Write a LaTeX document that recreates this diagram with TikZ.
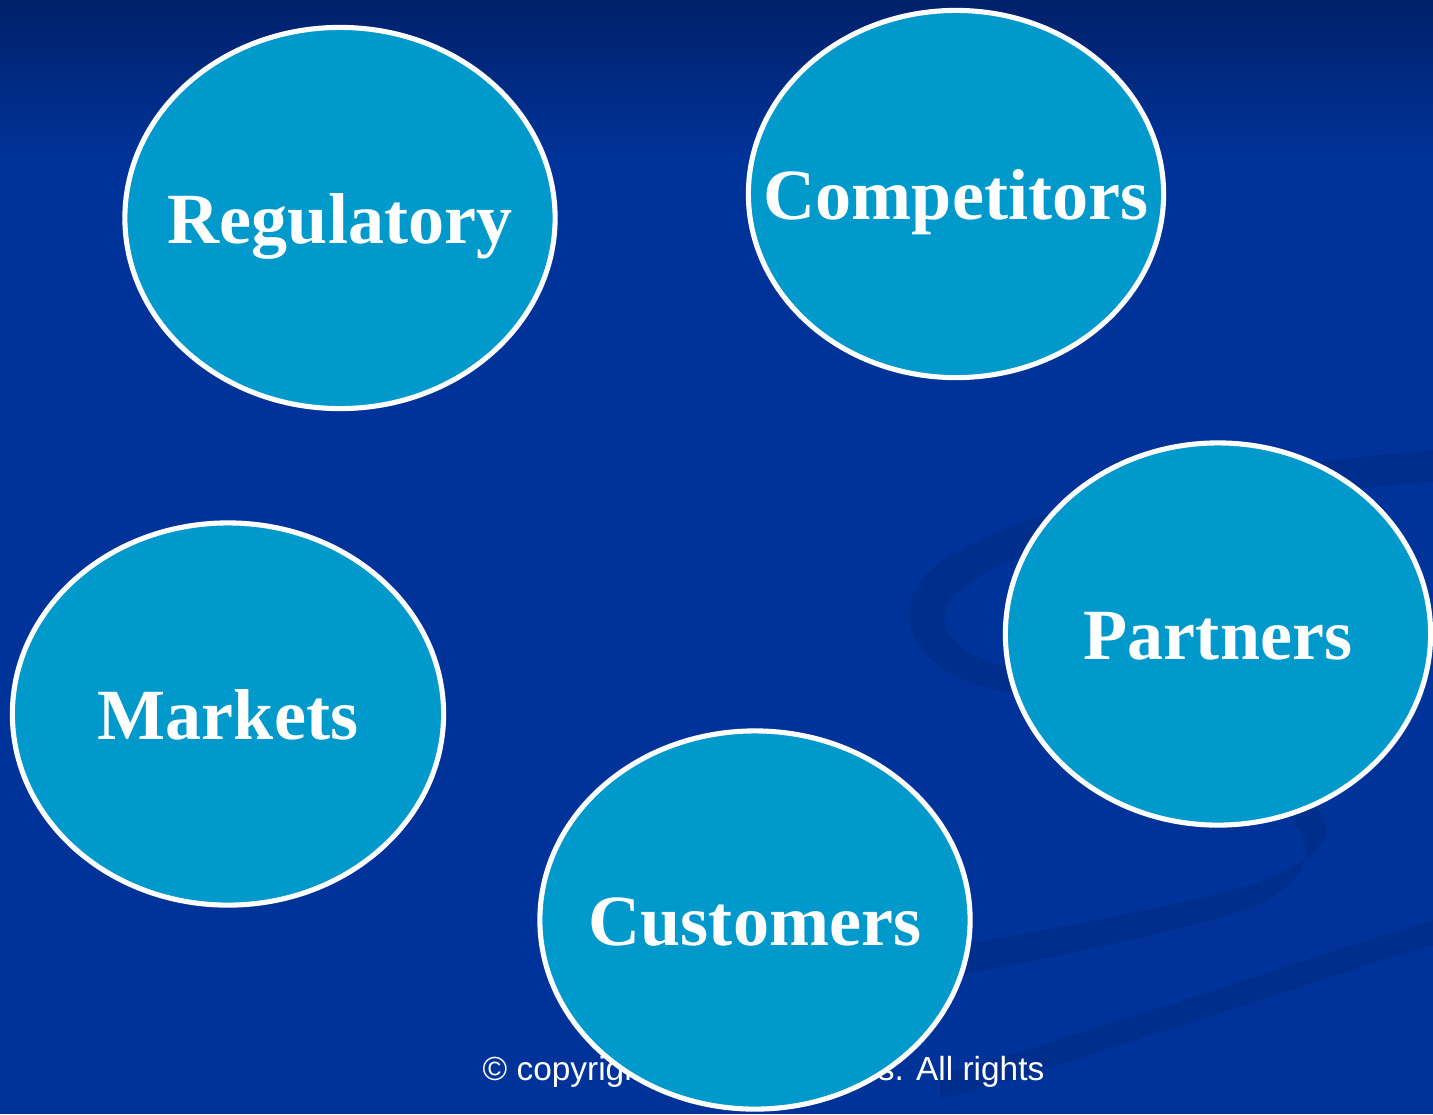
\documentclass[tikz,border=0pt]{standalone}
\usepackage{fontspec}
\setmainfont{Liberation Serif}
\newfontfamily\notefont{Liberation Sans}
\usetikzlibrary{shapes.geometric}
\definecolor{slideblue}{HTML}{003399}
\definecolor{topblue}{HTML}{00206A}
\definecolor{swirl}{HTML}{002E8C}
\definecolor{bubble}{HTML}{0099CC}

\begin{document}
\begin{tikzpicture}[x=0.01cm,y=-0.01cm]
 \tikzstyle{e} = [ellipse,draw=white,line width=1.45pt,fill=bubble,inner sep=0pt]
 \tikzstyle{t} = [text=white,inner sep=0pt,text height=0.5cm,text depth=0pt,
   font=\fontsize{20.5}{24}\selectfont\bfseries]
 \tikzstyle{n} = [text=white,inner sep=0pt,font=\notefont\fontsize{9.5}{11}\selectfont]
 \clip (0,0) rectangle (1433,1114);
 \useasboundingbox (0,0) rectangle (1433,1114);
 % background and swirls
 \fill[slideblue] (0,0) rectangle (1433,1114);
 \shade[top color=topblue,bottom color=slideblue] (0,0) rectangle (1433,160);
 \fill[swirl] (1433,450) .. controls (1200,470) and (1000,510) .. (930,570)
   .. controls (880,620) and (920,685) .. (1030,695) -- (1030,672)
   .. controls (950,660) and (925,620) .. (960,590)
   .. controls (1020,540) and (1200,500) .. (1433,482) -- cycle;
 \fill[swirl] (1290,790) .. controls (1350,820) and (1345,865) .. (1200,898)
   .. controls (1100,920) and (1000,938) .. (960,945) -- (960,975)
   .. controls (1050,958) and (1150,938) .. (1230,915)
   .. controls (1310,890) and (1325,850) .. (1280,805) -- cycle;
 \fill[swirl] (940,1075) .. controls (1100,1030) and (1300,960) .. (1433,920)
   -- (1433,945) .. controls (1300,985) and (1100,1055) .. (940,1100) -- cycle;
 % copyright line
 \node[n,anchor=base west] (noteleft) at (482,1080) {© copyright};
 \node[n,anchor=base east] (noteright) at (1045,1080) {s. All rights};
 % bubbles
 \path
 (340,218) node[e,minimum width=4.30cm,minimum height=3.81cm,label={[t]center:Regulatory}] (Regulatory) {}
 (Regulatory) ++(616,-24) node[e,minimum width=4.15cm,minimum height=3.67cm,label={[t]center:Competitors}] (Competitors) {}
 (Competitors) ++(262,440) node[e,minimum width=4.25cm,minimum height=3.82cm,label={[t]center:Partners}] (Partners) {}
 (Regulatory) ++(-112,496) node[e,minimum width=4.31cm,minimum height=3.82cm,label={[t]center:Markets}] (Markets) {}
 (Markets) ++(527,206) node[e,minimum width=4.30cm,minimum height=3.78cm,label={[t]center:Customers}] (Customers) {}
 ;
\end{tikzpicture}
\end{document}
